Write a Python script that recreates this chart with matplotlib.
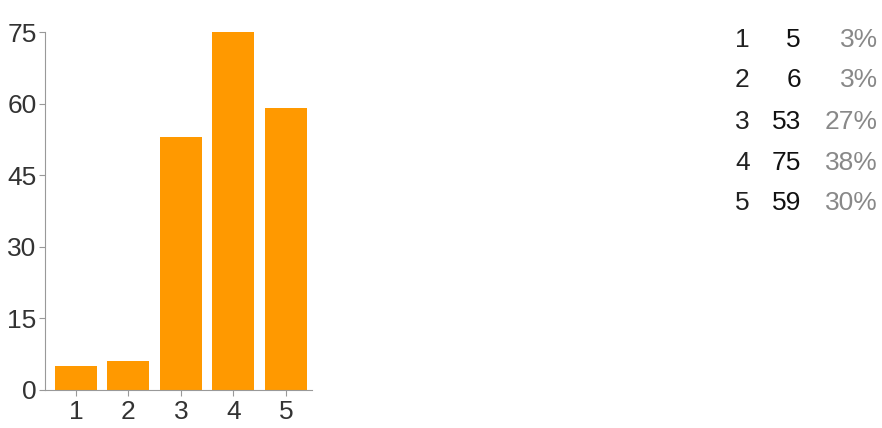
import matplotlib
matplotlib.use("Agg")
import matplotlib.pyplot as plt
from matplotlib import font_manager

categories = [1, 2, 3, 4, 5]
counts = [5, 6, 53, 75, 59]
percents = ["3%", "3%", "27%", "38%", "30%"]
yticks = [0, 15, 30, 45, 60, 75]

names = {f.name for f in font_manager.fontManager.ttflist}
fam = "Liberation Sans Narrow" if "Liberation Sans Narrow" in names else "Liberation Sans"
plt.rcParams['font.family'] = [fam, 'DejaVu Sans']

fig = plt.figure(figsize=(8.82, 4.28), dpi=100)
ax = fig.add_axes([0.051, 0.089, 0.303, 0.836])

ax.bar(categories, counts, width=0.8, color="#ff9900")
ax.set_xlim(0.41, 5.5)
ax.set_ylim(0, 75)
ax.set_yticks(yticks)
ax.set_xticks(categories)
for s in ["top", "right"]:
    ax.spines[s].set_visible(False)
ax.spines["left"].set_color("#999999")
ax.spines["bottom"].set_color("#999999")
ax.tick_params(axis="both", colors="#999999", labelcolor="#333333", labelsize=19,
               length=4)
ax.tick_params(axis="y", pad=2)

# summary table on the right
row_y = [40, 80, 122, 163, 203]
H = 428.0
for c, n, p, y in zip(categories, counts, percents, row_y):
    yf = 1 - y / H
    fig.text(735 / 882, yf, str(c), ha="left", va="center", fontsize=19, color="#222222")
    fig.text(801 / 882, yf, str(n), ha="right", va="center", fontsize=19, color="#111111")
    fig.text(878 / 882, yf, p, ha="right", va="center", fontsize=19, color="#888888")

fig.savefig("out.png", dpi=100)
